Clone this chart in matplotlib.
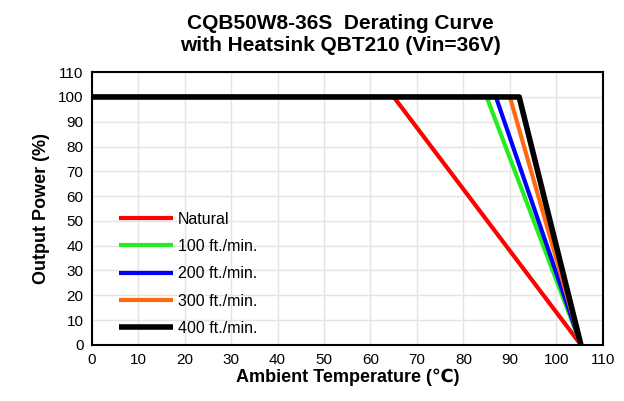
import numpy as np
import matplotlib.pyplot as plt

plt.rcParams['font.family'] = ['Liberation Sans', 'DejaVu Sans']

# derating curves: (temperature, power) breakpoints
labels = ['Natural', '100 ft./min.', '200 ft./min.', '300 ft./min.', '400 ft./min.']
colors = ['#ff0000', '#22ee22', '#0000ff', '#ff6a10', '#000000']
knee_temp = [65, 85, 87, 90, 92]
end_temp = [105.3, 105.3, 105.3, 105.3, 105.3]
start_temp = 0
full_power = 100

fig = plt.figure(figsize=(6.24, 4.01), dpi=100)
ax = fig.add_axes([0.147, 0.140, 0.819, 0.680])

for lab, col, kt, et in zip(labels, colors, knee_temp, end_temp):
    lw = 4 if col == '#000000' else 3
    ax.plot([start_temp, kt, et], [full_power, full_power, 0], color=col, lw=lw,
            label=lab, solid_capstyle='butt')

ax.set_xlim(0, 110)
ax.set_ylim(0, 110)
ax.set_xticks(np.arange(0, 111, 10))
ax.set_yticks(np.arange(0, 111, 10))
ax.grid(True, color='#e4e4e4', lw=1)
ax.set_axisbelow(True)
ax.tick_params(length=0, labelsize=11, pad=6)
for s in ax.spines.values():
    s.set_linewidth(1.5)

ax.set_xlabel('Ambient Temperature (℃)', fontsize=13, fontweight='bold', labelpad=1)
ax.set_ylabel('Output Power (%)', fontsize=13, fontweight='bold', labelpad=6)
fig.text(0.545, 0.915, 'CQB50W8-36S  Derating Curve\nwith Heatsink QBT210 (Vin=36V)',
         ha='center', va='center', fontsize=15, fontweight='bold', linespacing=1.2)

ax.legend(loc='upper left', bbox_to_anchor=(0.04, 0.512), frameon=False,
          fontsize=11.5, handlelength=3.4, handletextpad=0.3, labelspacing=0.77,
          borderaxespad=0)

fig.savefig('out.png', dpi=100)
